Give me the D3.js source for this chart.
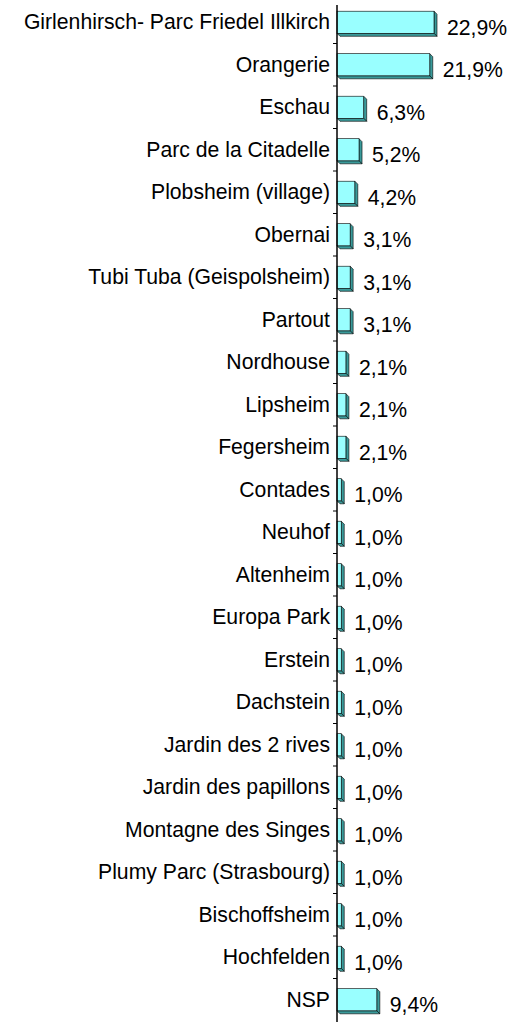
<!DOCTYPE html>
<html><head><meta charset="utf-8">
<script src="https://cdn.jsdelivr.net/npm/d3@7"></script>
<style>body{margin:0;background:#fff}svg{display:block}text{font-family:"Liberation Sans",Arial,sans-serif;fill:#000}</style>
</head><body><svg id="c" width="513" height="1022"></svg>
<script>
const categories = ["Girlenhirsch- Parc Friedel Illkirch","Orangerie","Eschau","Parc de la Citadelle","Plobsheim (village)","Obernai","Tubi Tuba (Geispolsheim)","Partout","Nordhouse","Lipsheim","Fegersheim","Contades","Neuhof","Altenheim","Europa Park","Erstein","Dachstein","Jardin des 2 rives","Jardin des papillons","Montagne des Singes","Plumy Parc (Strasbourg)","Bischoffsheim","Hochfelden","NSP"];
const values = [22.9,21.9,6.3,5.2,4.2,3.1,3.1,3.1,2.1,2.1,2.1,1.0,1.0,1.0,1.0,1.0,1.0,1.0,1.0,1.0,1.0,1.0,1.0,9.4];
const valueLabels = ["22,9%","21,9%","6,3%","5,2%","4,2%","3,1%","3,1%","3,1%","2,1%","2,1%","2,1%","1,0%","1,0%","1,0%","1,0%","1,0%","1,0%","1,0%","1,0%","1,0%","1,0%","1,0%","1,0%","9,4%"];

const svg = d3.select("#c");
const x0 = 337, depth = 3, fs = 21.2;
const x = d3.scaleLinear().domain([0, 22.9]).range([x0, x0 + 97]);
const y = d3.scaleBand().domain(categories).range([1, 1021]).paddingInner(0.48).paddingOuter(0.24);
const band = d3.scaleBand().domain(categories).range([1, 1021]);

const g = svg.append("g");
const rows = g.selectAll("g.row").data(categories).join("g");

rows.each(function(c, i) {
  const s = d3.select(this);
  const yt = y(c), h = y.bandwidth(), xe = x(values[i]);
  s.append("polygon")
    .attr("points", [[xe, yt], [xe + depth, yt + depth], [xe + depth, yt + h + depth], [xe, yt + h]].join(" "))
    .attr("fill", "#3a9a9a").attr("stroke", "#000").attr("stroke-width", 0.6);
  s.append("polygon")
    .attr("points", [[x0, yt + h], [xe, yt + h], [xe + depth, yt + h + depth], [x0 + depth, yt + h + depth]].join(" "))
    .attr("fill", "#3a9a9a").attr("stroke", "#000").attr("stroke-width", 0.6);
  s.append("rect").attr("x", x0).attr("y", yt).attr("width", xe - x0).attr("height", h)
    .attr("fill", "#99ffff").attr("stroke", "#000").attr("stroke-width", 0.6);
  s.append("text").attr("x", xe + 13).attr("y", yt + h / 2 + 5).attr("dy", "0.35em")
    .attr("font-size", fs).text(valueLabels[i]);
});

const axis = d3.axisLeft(y).tickSize(0).tickPadding(7);
const ag = svg.append("g").attr("transform", `translate(${x0},0)`).call(axis);
ag.select(".domain").remove();
ag.selectAll("text").attr("font-size", fs).attr("font-family", '"Liberation Sans",Arial,sans-serif').attr("fill", "#000");
svg.append("line").attr("x1", x0).attr("x2", x0).attr("y1", 5).attr("y2", 1022).attr("stroke", "#000").attr("stroke-width", 1.5);
svg.selectAll("line.tk").data(categories.slice(1)).join("line").attr("class", "tk")
  .attr("x1", x0 - 4).attr("x2", x0).attr("y1", d => band(d)).attr("y2", d => band(d)).attr("stroke", "#000");
</script></body></html>
